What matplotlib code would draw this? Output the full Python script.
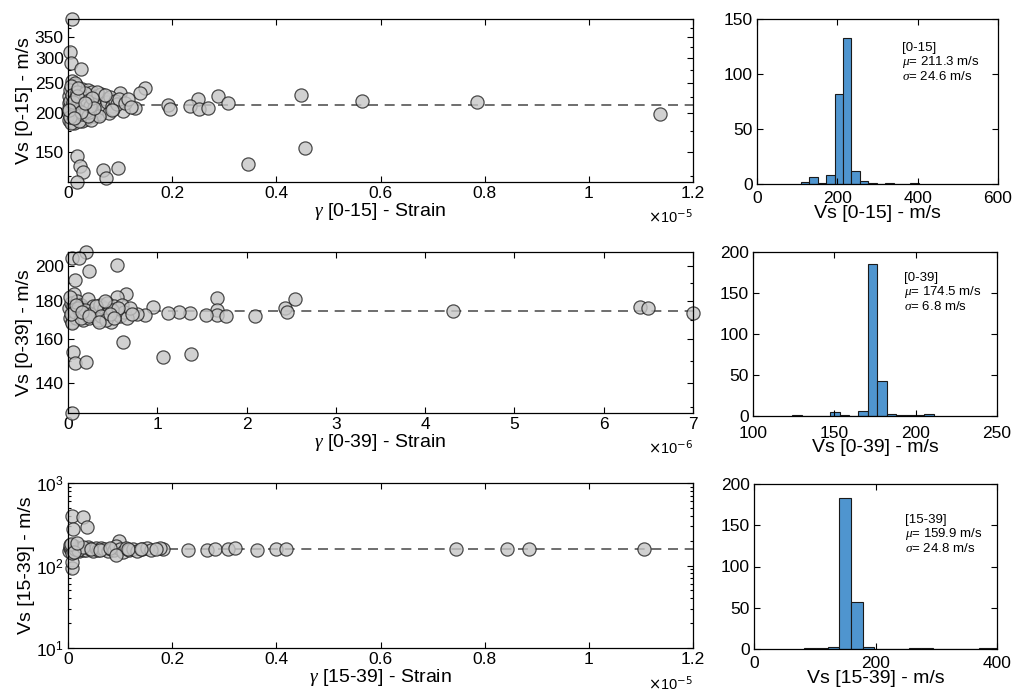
import numpy as np
import matplotlib

matplotlib.use("Agg")
from matplotlib import pyplot as plt
from matplotlib.ticker import FixedLocator, FuncFormatter, MultipleLocator, NullFormatter, LogLocator

plt.rcParams['font.family'] = ['Liberation Sans', 'DejaVu Sans']
plt.rcParams['mathtext.fontset'] = 'custom'
plt.rcParams['mathtext.it'] = 'Liberation Serif:italic'

# ---- scatter data: strain (scaled) vs Vs ----
# layer [0-15], strain in units of 1e-5
strain_015 = [0.007, 0.004, 0.006, 0.025, 0.007, 0.148, 0.138, 0.100, 0.129, 0.106,
              0.192, 0.196, 0.250, 0.234, 0.252, 0.269, 0.288, 0.307, 0.447, 0.455,
              0.346, 0.017, 0.023, 0.029, 0.017, 0.067, 0.073, 0.096, 0.564, 0.785,
              1.137,
              0.002, 0.003, 0.004, 0.005, 0.006, 0.008, 0.010, 0.012, 0.015, 0.018,
              0.020, 0.022, 0.024, 0.026, 0.028, 0.031, 0.033, 0.035, 0.037, 0.039,
              0.041, 0.043, 0.045, 0.047, 0.049, 0.051, 0.053, 0.056, 0.059, 0.061,
              0.064, 0.067, 0.069, 0.072, 0.075, 0.078, 0.081, 0.084, 0.087, 0.091,
              0.094, 0.098, 0.012, 0.008, 0.016, 0.001, 0.001, 0.009, 0.014, 0.027,
              0.044, 0.060, 0.013, 0.021, 0.030, 0.003, 0.006, 0.040, 0.055, 0.071,
              0.085, 0.110, 0.115, 0.121,
              0.002, 0.004, 0.005, 0.007, 0.009, 0.011, 0.013, 0.015, 0.017, 0.019,
              0.021, 0.023, 0.025, 0.027, 0.029, 0.032, 0.034, 0.036, 0.038, 0.042,
              0.046, 0.050, 0.003, 0.010, 0.018, 0.024, 0.033, 0.001, 0.012, 0.020]
vs_015 = [400, 313, 288, 277, 253, 240, 232, 232, 208, 203,
          212, 205, 221, 210, 206, 207, 226, 215, 228, 154,
          137, 145, 135, 129, 120, 131, 124, 133, 218, 216,
          198,
          190, 203, 196, 214, 221, 187, 232, 209, 245, 199,
          226, 193, 212, 238, 205, 219, 229, 191, 208, 236,
          215, 201, 224, 233, 196, 211, 227, 204, 218, 199,
          230, 213, 207, 222, 217, 200, 225, 211, 206, 219,
          214, 221, 185, 202, 217, 215, 226, 241, 249, 188,
          190, 196, 206, 228, 210, 236, 243, 201, 234, 229,
          204, 215, 222, 209,
          208, 218, 186, 228, 213, 197, 222, 204, 234, 216,
          189, 207, 225, 198, 214, 231, 203, 219, 195, 211,
          223, 207, 194, 217, 227, 201, 215, 204, 192, 240]

# layer [0-39], strain in units of 1e-6
strain_039 = [0.04, 0.20, 0.04, 0.12, 0.545, 0.24, 0.08, 0.067, 0.65, 0.545,
              1.665, 2.54, 2.43, 2.45, 1.665, 1.665, 1.55, 1.775, 2.09, 1.365,
              1.245, 1.12, 0.955, 0.86, 0.77, 0.62, 1.067, 1.375, 0.06, 0.08,
              0.20, 4.315, 6.405, 6.50, 6.995,
              0.01, 0.02, 0.03, 0.04, 0.05, 0.06, 0.07, 0.09, 0.10, 0.12,
              0.13, 0.15, 0.17, 0.18, 0.20, 0.22, 0.24, 0.26, 0.28, 0.30,
              0.32, 0.34, 0.36, 0.38, 0.40, 0.42, 0.44, 0.46, 0.48, 0.50,
              0.52, 0.55, 0.58, 0.60, 0.63, 0.66, 0.69, 0.72, 0.02, 0.05,
              0.08, 0.11, 0.14, 0.19, 0.25, 0.31, 0.37, 0.43, 0.49, 0.56,
              0.03, 0.09, 0.16, 0.23, 0.35, 0.47, 0.52, 0.41]
vs_039 = [127.8, 209, 205, 205, 201, 197, 192, 184, 184, 182,
          181.5, 181, 176, 174, 175.3, 172.5, 172.5, 171.7, 171.7, 173.2,
          174.2, 173.2, 176.5, 172.5, 173, 158.9, 151.8, 153.2, 154.1, 149.1,
          149.4, 174.4, 176.5, 176.2, 173.4,
          176, 171, 179, 173, 169, 177, 174, 171, 180, 175,
          172, 178, 170, 176, 173, 181, 171, 175, 177, 172,
          174, 170, 178, 173, 176, 171, 179, 174, 169, 175,
          177, 173, 172, 178, 174, 171, 176, 173, 182, 168,
          174, 176, 171, 175, 173, 177, 172, 170, 175, 176,
          173, 178, 174, 172, 169, 173, 171, 180]

# layer [15-39], strain in units of 1e-5
strain_1539 = [0.007, 0.029, 0.010, 0.037, 0.007, 0.007, 0.097, 0.745, 0.842, 0.886,
               1.105, 0.183, 0.177, 0.231, 0.266, 0.282, 0.307, 0.320, 0.363, 0.400,
               0.418,
               0.002, 0.004, 0.006, 0.009, 0.012, 0.015, 0.018, 0.022, 0.026, 0.030,
               0.034, 0.038, 0.043, 0.048, 0.053, 0.058, 0.064, 0.070, 0.076, 0.082,
               0.088, 0.093, 0.099, 0.105, 0.111, 0.118, 0.125, 0.133, 0.142, 0.151,
               0.160, 0.168, 0.003, 0.008, 0.014, 0.020, 0.028, 0.045, 0.062, 0.080,
               0.093, 0.115, 0.140, 0.005, 0.011, 0.017]
vs_1539 = [398, 384, 275, 295, 92.5, 111, 200, 157, 157, 157,
           157, 157, 162, 153, 155, 160, 158, 162, 155, 158,
           157,
           150, 165, 158, 145, 170, 155, 160, 148, 163, 156,
           152, 167, 158, 150, 161, 155, 164, 157, 149, 160,
           153, 172, 158, 147, 162, 155, 159, 151, 157, 161,
           156, 158, 175, 140, 160, 152, 166, 158, 154, 163,
           134, 158, 160, 180, 145, 188]

# ---- histogram data: bin edges and counts ----
hist_edges_015 = [109, 130, 151, 172, 193, 214, 235, 256, 277, 298, 319, 340, 361, 382, 403]
hist_counts_015 = [2, 6, 1, 8, 82, 133, 12, 3, 1, 0, 1, 0, 0, 1]

hist_edges_039 = [124.2, 130.0, 135.8, 141.6, 147.4, 153.2, 159.0, 164.8, 170.6,
                  176.4, 182.2, 188.0, 193.8, 199.6, 205.4, 211.2]
hist_counts_039 = [1, 0, 0, 0, 5, 1, 0, 6, 185, 43, 2, 1, 1, 1, 2]

hist_edges_1539 = [82.9, 102.1, 121.3, 140.5, 159.7, 178.9, 198.1, 217.3, 236.5,
                   255.7, 274.9, 294.1, 313.3, 332.5, 351.7, 370.9, 390.1, 409.3]
hist_counts_1539 = [1, 1, 2, 183, 57, 2, 0, 0, 0, 1, 1, 0, 0, 0, 0, 1, 1]

means = [211.3, 174.5, 159.9]
stds = [24.6, 6.8, 24.8]
layers = ['[0-15]', '[0-39]', '[15-39]']
strain_exp = [-5, -6, -5]

fig = plt.figure(figsize=(10.14, 6.93), dpi=100)

W, H = 1014.0, 693.0
TICK_FS = 12.5
LABEL_FS = 14


def px_axes(x0, y0, x1, y1):
    return fig.add_axes([x0 / W, 1 - y1 / H, (x1 - x0) / W, (y1 - y0) / H])


def style(ax):
    ax.tick_params(direction='in', which='both', top=True, right=True,
                   labelsize=TICK_FS, length=4, width=0.8, pad=3)
    ax.tick_params(which='minor', length=2.5)
    for s in ax.spines.values():
        s.set_linewidth(0.9)


fmt_g = FuncFormatter(lambda v, p: '%g' % v)

scat_axes = [px_axes(68, 19, 693, 182), px_axes(68, 252, 693, 413), px_axes(68, 483, 693, 648)]
hist_axes = [px_axes(757, 19, 998, 184), px_axes(753, 252, 997, 416), px_axes(754, 484, 997, 649)]

scat_x = [strain_015, strain_039, strain_1539]
scat_y = [vs_015, vs_039, vs_1539]
xmax = [1.2, 7, 1.2]
xstep = [0.2, 1, 0.2]

for i, ax in enumerate(scat_axes):
    ax.set_yscale('log')
    ax.axhline(means[i], color='#555555', lw=1.2, ls=(0, (6, 4)), zorder=1)
    ax.scatter(scat_x[i], scat_y[i], s=90, facecolor='#c6c6c6', edgecolor='#222222',
               linewidths=0.9, alpha=0.8, zorder=2, clip_on=False)
    ax.set_xlim(0, xmax[i])
    ax.xaxis.set_major_locator(MultipleLocator(xstep[i]))
    ax.xaxis.set_major_formatter(fmt_g)
    ax.set_xlabel(r'$\gamma$ ' + layers[i] + ' - Strain', fontsize=LABEL_FS, labelpad=0)
    ax.set_ylabel('Vs ' + layers[i] + ' - m/s', fontsize=LABEL_FS, labelpad=1)
    ax.text(1.0, -0.165, r'$\times$10$^{%d}$' % strain_exp[i], transform=ax.transAxes,
            ha='right', va='top', fontsize=10.5)
    style(ax)

scat_axes[0].set_ylim(min(vs_015), max(vs_015))
scat_axes[0].yaxis.set_major_locator(FixedLocator([150, 200, 250, 300, 350]))
scat_axes[0].yaxis.set_minor_locator(MultipleLocator(25))
scat_axes[0].yaxis.set_major_formatter(fmt_g)
scat_axes[0].yaxis.set_minor_formatter(NullFormatter())

scat_axes[1].set_ylim(min(vs_039), max(vs_039))
scat_axes[1].yaxis.set_major_locator(FixedLocator([140, 160, 180, 200]))
scat_axes[1].yaxis.set_minor_locator(MultipleLocator(10))
scat_axes[1].yaxis.set_major_formatter(fmt_g)
scat_axes[1].yaxis.set_minor_formatter(NullFormatter())

scat_axes[2].set_ylim(10, 1000)
scat_axes[2].yaxis.set_minor_locator(LogLocator(subs=np.arange(2, 10)))

hist_edges = [hist_edges_015, hist_edges_039, hist_edges_1539]
hist_counts = [hist_counts_015, hist_counts_039, hist_counts_1539]
hxlim = [(0, 600), (100, 250), (0, 400)]
hxstep = [200, 50, 200]
hylim = [150, 200, 200]
txt_pos = [(0.60, 0.86), (0.62, 0.88), (0.62, 0.82)]
xpads = [5, 7, 5]

for i, ax in enumerate(hist_axes):
    e = np.array(hist_edges[i])
    ax.bar(e[:-1], hist_counts[i], width=np.diff(e), align='edge',
           color='#4f95cf', edgecolor='#1a1a1a', linewidth=0.8)
    ax.set_xlim(*hxlim[i])
    ax.set_ylim(0, hylim[i])
    ax.xaxis.set_major_locator(MultipleLocator(hxstep[i]))
    ax.yaxis.set_major_locator(MultipleLocator(50))
    ax.set_xlabel('Vs ' + layers[i] + ' - m/s', fontsize=LABEL_FS, labelpad=-1)
    ax.text(txt_pos[i][0], txt_pos[i][1],
            layers[i] + '\n' + r'$\mu$= %.1f m/s' % means[i] + '\n' + r'$\sigma$= %.1f m/s' % stds[i],
            transform=ax.transAxes, ha='left', va='top', fontsize=9.5, linespacing=1.0)
    style(ax)
    ax.tick_params(axis='x', pad=xpads[i])

fig.savefig('out.png', dpi=100)
